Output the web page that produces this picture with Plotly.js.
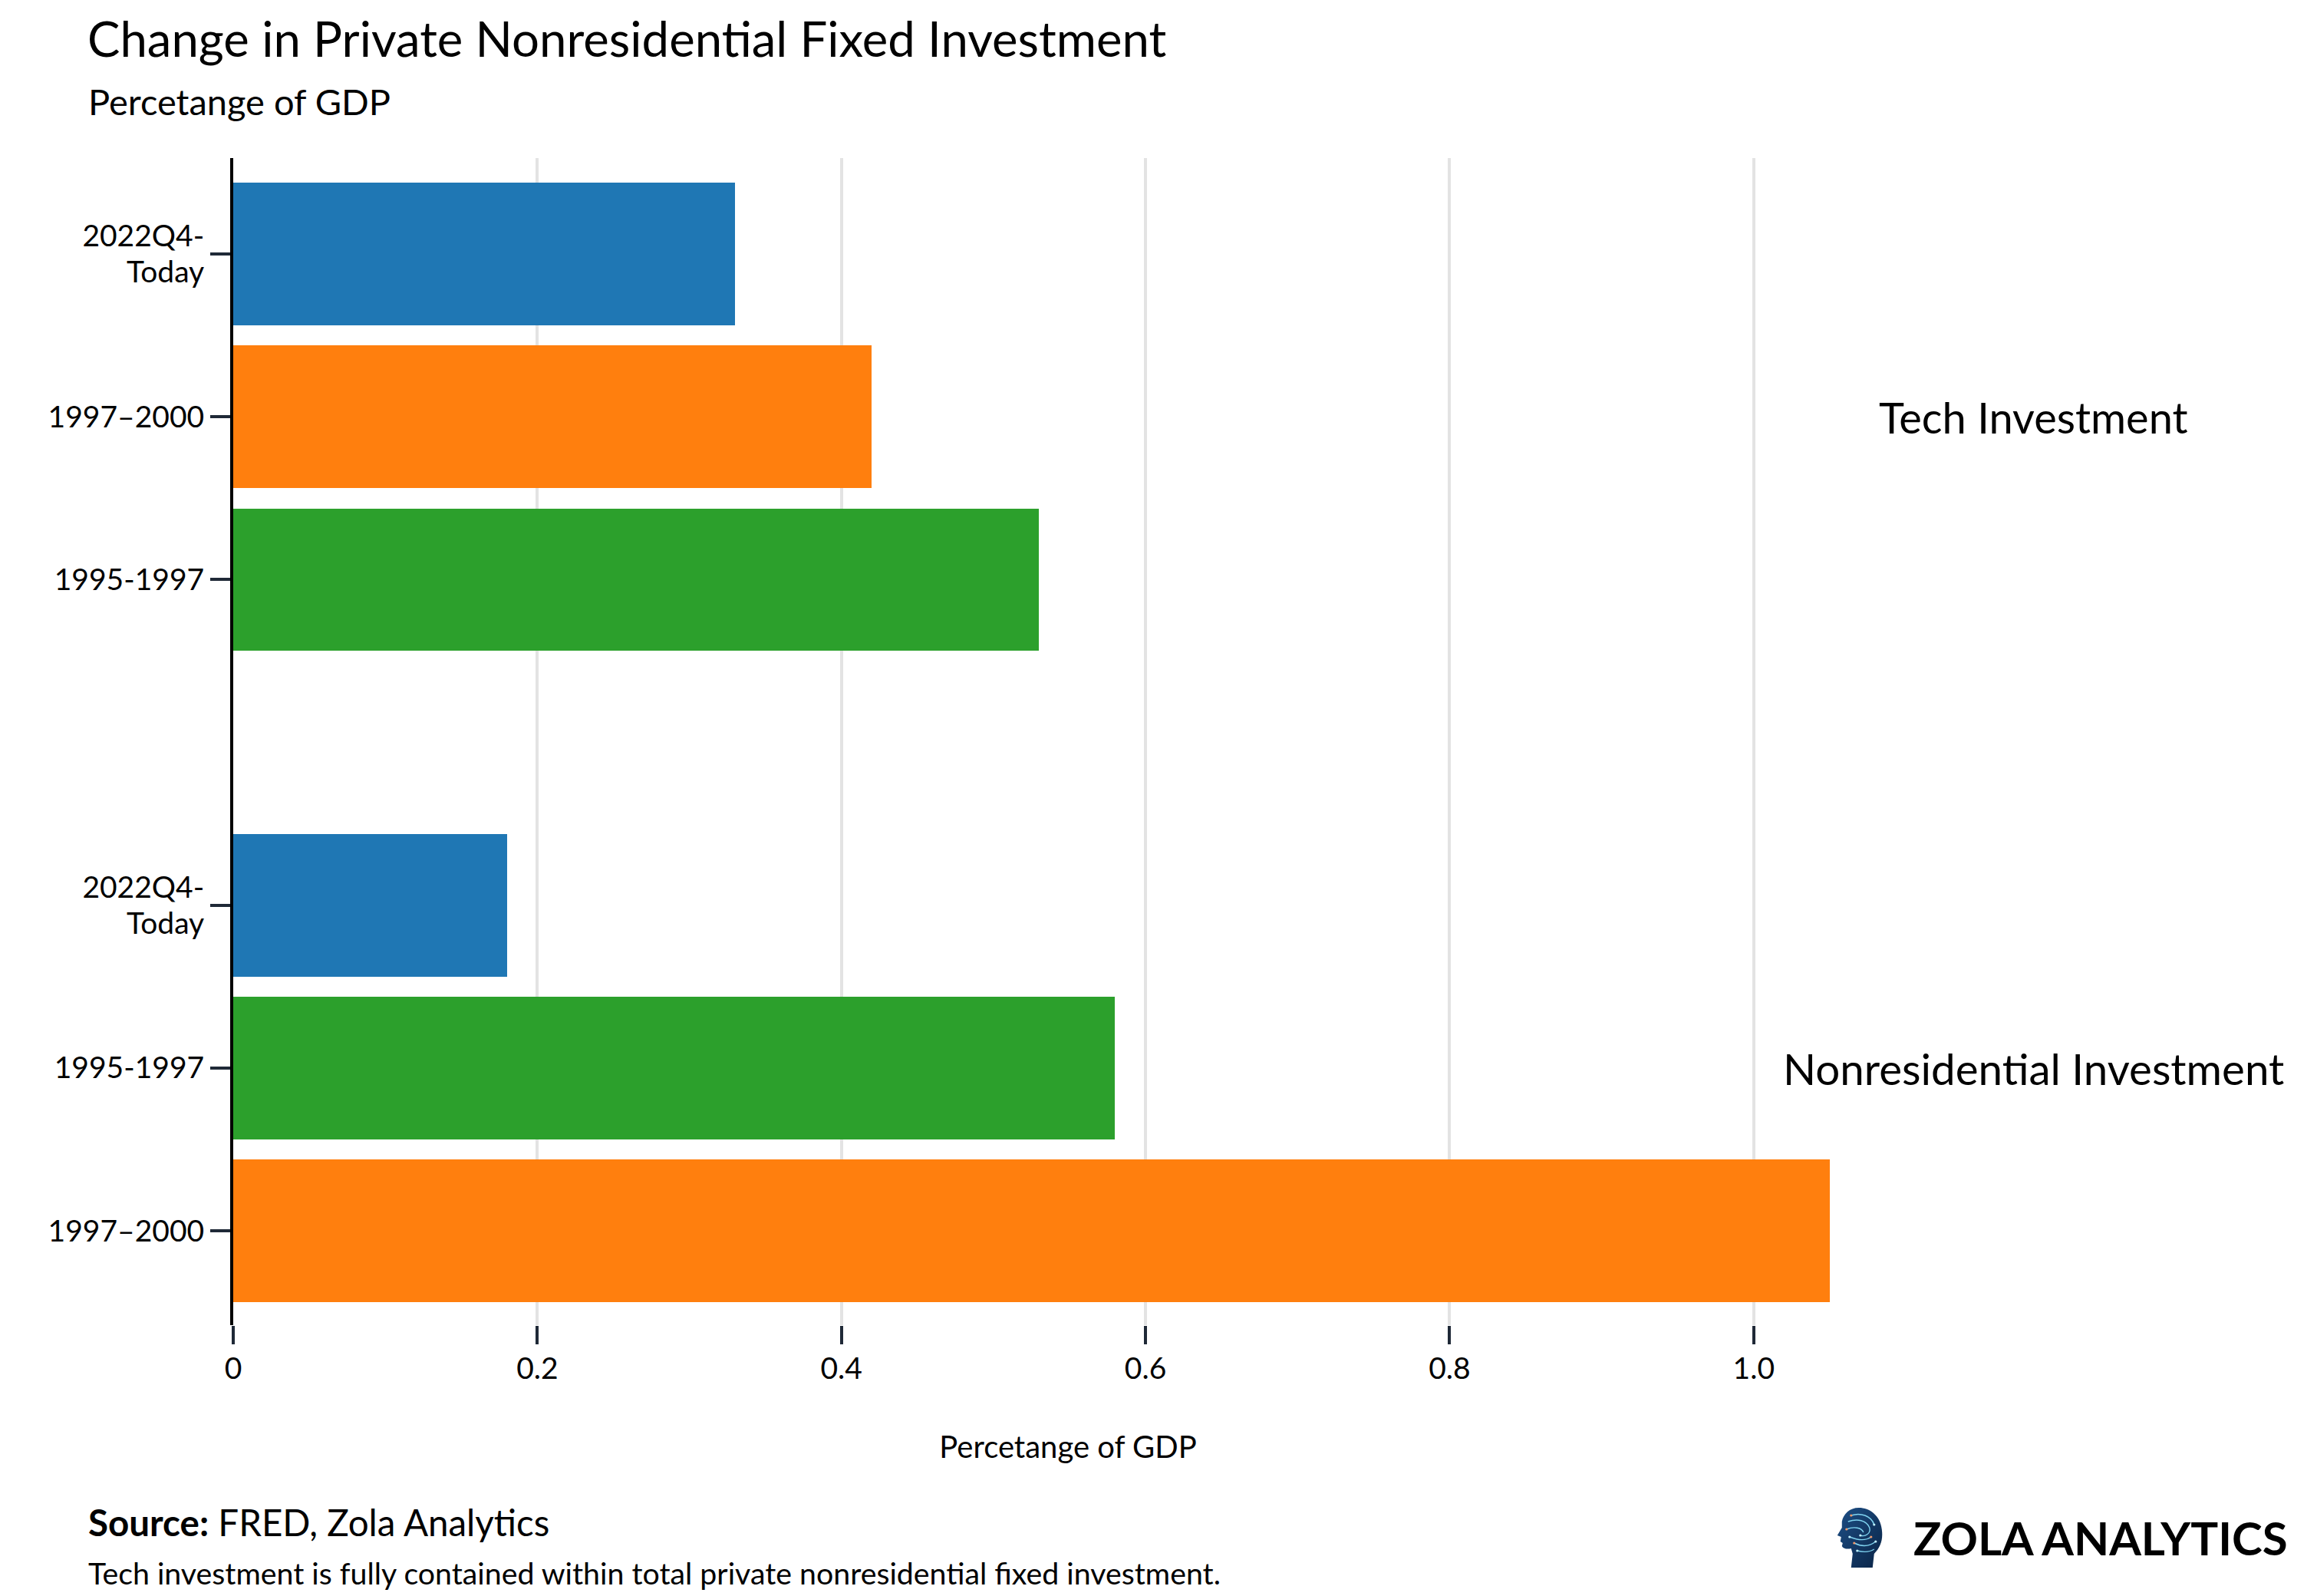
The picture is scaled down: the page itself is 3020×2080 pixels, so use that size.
<!DOCTYPE html>
<html>
<head>
<meta charset="utf-8">
<script src="https://cdn.plot.ly/plotly-3.0.1.min.js"></script>
<style>html,body{margin:0;padding:0;background:#fff;}#chart{width:3020px;height:2080px;}</style>
</head>
<body>
<div id="chart"></div>
<script>
// ---- data ----
const periods = ["2022Q4-<br>Today", "1997–2000", "1995-1997"];
const periodColors = ["#1f77b4", "#ff7f0e", "#2ca02c"];
const techValues = [0.33, 0.42, 0.53];      // by period
const nonresValues = [0.18, 1.05, 0.58];    // by period
const groupNames = ["Tech Investment", "Nonresidential Investment"];
const xTickVals = [0, 0.2, 0.4, 0.6, 0.8, 1.0];
const xTickText = ["0", "0.2", "0.4", "0.6", "0.8", "1.0"];
const titleText = "Change in Private Nonresidential Fixed Investment";
const subtitleText = "Percetange of GDP";
const xTitleText = "Percetange of GDP";
const sourceText = "<b>Source:</b> FRED, Zola Analytics";
const noteText = "Tech investment is fully contained within total private nonresidential fixed investment.";
const brandText = "<b>ZOLA ANALYTICS</b>";

// ---- geometry ----
const FW = 3020, FH = 2080;
const L = 304, T = 206, PB = 1727;
const XMAX = 1.098, UNIT = 1982;
const W = XMAX * UNIT, H = PB - T;
const Rm = FW - L - W, Bm = FH - PB;
const px = v => (v - L) / W;
const py = v => (PB - v) / H;

// rows: groups stacked with an empty row between, sorted ascending within group
const groups = [techValues, nonresValues];
const rowOf = groups.map((vals, g) => {
  const order = vals.map((v, i) => i).sort((a, b) => vals[a] - vals[b]);
  const rows = [];
  order.forEach((pi, rank) => { rows[pi] = g * 4 + rank; });
  return rows;
});

const traces = periods.map((p, i) => ({
  type: "bar",
  orientation: "h",
  x: groups.map(vals => vals[i]),
  y: groups.map((vals, g) => rowOf[g][i]),
  width: 0.875,
  marker: { color: periodColors[i], line: { width: 0 } },
  name: p.replace("<br>", " "),
  hoverinfo: "skip",
  showlegend: false
}));

const tickvals = [], ticktext = [];
groups.forEach((vals, g) => periods.forEach((p, i) => { tickvals.push(rowOf[g][i]); ticktext.push(p); }));

const font = "Lato, 'Noto Sans', sans-serif";
const TICKFONT = 39;

const annotations = [
  { text: titleText, xref: "paper", yref: "paper", x: px(112), y: py(50), xanchor: "left", yanchor: "middle", showarrow: false, font: { family: font, size: 63.5, color: "#000" } },
  { text: subtitleText, xref: "paper", yref: "paper", x: px(113), y: py(132), xanchor: "left", yanchor: "middle", showarrow: false, font: { family: font, size: 47, color: "#000" } },
  { text: sourceText, xref: "paper", yref: "paper", x: px(113), y: py(1983), xanchor: "left", yanchor: "middle", showarrow: false, font: { family: font, size: 47.5, color: "#000" } },
  { text: noteText, xref: "paper", yref: "paper", x: px(113), y: py(2049), xanchor: "left", yanchor: "middle", showarrow: false, font: { family: font, size: 39.3, color: "#000" } },
  { text: brandText, xref: "paper", yref: "paper", x: px(2492), y: py(2004), xanchor: "left", yanchor: "middle", showarrow: false, font: { family: font, size: 60, color: "#000" } }
];
const groupFontSizes = [56, 56.5];
groupNames.forEach((g, k) => {
  annotations.push({ text: g, xref: "paper", yref: "y", x: px(2651), y: k * 4 + 1, xanchor: "center", yanchor: "middle", showarrow: false, font: { family: font, size: groupFontSizes[k], color: "#000" } });
});

// simple head-with-circuits logo as inline SVG
const logoSvg = `<svg xmlns="http://www.w3.org/2000/svg" viewBox="0 0 64 80">
<defs><linearGradient id="g" x1="0" y1="0" x2="1" y2="1"><stop offset="0" stop-color="#1d4f86"/><stop offset="1" stop-color="#0a2446"/></linearGradient></defs>
<path d="M50 80 L52 62 C60 54 64 44 62 30 C60 12 46 2 32 2 C20 2 12 10 10 20 L10 28 L4 38 L9 40 L8 46 L11 48 L10 52 C12 56 18 56 22 55 L24 62 L22 80 Z" fill="url(#g)"/>
<g fill="none" stroke="#7fd3f0" stroke-width="1.4">
<path d="M22 12 C34 8 48 12 52 24"/><path d="M18 20 C30 16 42 18 46 28 C48 36 40 40 34 38"/>
<path d="M16 30 C26 26 36 28 38 34"/><path d="M20 40 C30 44 40 46 48 40"/>
<path d="M26 48 C34 52 44 54 54 46"/><path d="M30 58 C38 60 46 60 52 56"/>
</g>
<g fill="#f39a6b"><circle cx="22" cy="12" r="1.6"/><circle cx="16" cy="30" r="1.6"/><circle cx="26" cy="48" r="1.6"/><circle cx="48" cy="40" r="1.6"/></g>
<g fill="#bff0ff"><circle cx="52" cy="24" r="1.6"/><circle cx="34" cy="38" r="1.6"/><circle cx="20" cy="40" r="1.6"/><circle cx="30" cy="58" r="1.6"/><circle cx="54" cy="46" r="1.6"/></g>
</svg>`;

const layout = {
  width: FW, height: FH,
  paper_bgcolor: "#fff", plot_bgcolor: "#fff",
  margin: { l: L, r: Rm, t: T, b: Bm, pad: 0 },
  font: { family: font, color: "#000" },
  showlegend: false,
  bargap: 0,
  xaxis: {
    range: [0, XMAX], tickvals: xTickVals, ticktext: xTickText,
    showgrid: true, gridcolor: "#e3e3e3", gridwidth: 4,
    zeroline: false, showline: false,
    ticks: "outside", ticklen: 24, tickwidth: 4, tickcolor: "#1f2937",
    ticklabelstandoff: -2,
    tickfont: { family: font, size: TICKFONT, color: "#000" },
    title: { text: xTitleText, font: { family: font, size: 40, color: "#000" }, standoff: 68 },
    automargin: false, fixedrange: true
  },
  yaxis: {
    range: [6.58, -0.59], tickvals: tickvals, ticktext: ticktext,
    showgrid: false, zeroline: false,
    showline: true, linecolor: "#000", linewidth: 4,
    ticks: "outside", ticklen: 26, tickwidth: 4, tickcolor: "#1f2937",
    tickfont: { family: font, size: TICKFONT, color: "#000" },
    automargin: false, fixedrange: true
  },
  annotations: annotations,
  images: [{
    source: "data:image/svg+xml;charset=utf-8," + encodeURIComponent(logoSvg),
    xref: "paper", yref: "paper",
    x: px(2391), y: py(1963), sizex: 64 / W, sizey: 80 / H,
    xanchor: "left", yanchor: "top", sizing: "stretch", layer: "above"
  }]
};

Plotly.newPlot("chart", traces, layout, { staticPlot: true, displayModeBar: false }).then(gd => {
  // tighten the line spacing of two-line y tick labels (reference is tighter than Plotly's 1.3em)
  const lineGap = TICKFONT * 1.2;
  gd.querySelectorAll(".ytick text").forEach(t => {
    const lines = t.querySelectorAll("tspan.line");
    if (lines.length === 2) {
      const shift = (TICKFONT * 1.3 - lineGap) / 2;
      lines[0].setAttribute("dy", shift);
      lines[1].setAttribute("dy", shift + lineGap);
    }
  });
});
</script>
</body>
</html>
